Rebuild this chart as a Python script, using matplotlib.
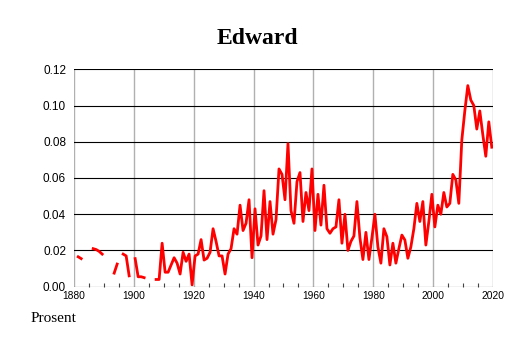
import numpy as np
import matplotlib
matplotlib.use("Agg")
import matplotlib.pyplot as plt
from matplotlib.ticker import MultipleLocator, FormatStrFormatter

# share of the population named Edward, per year (gaps = no data)
years = np.arange(1880, 2020)
nan = np.nan
values = [
    nan, 0.0165, 0.0155, nan, nan, nan, 0.021, 0.0205, 0.0195, 0.018,   # 1880-
    nan, nan, nan, 0.0075, 0.0125, nan, 0.018, 0.017, 0.006, nan,       # 1890-
    0.0155, 0.0055, 0.0055, 0.005, nan, nan, nan, 0.004, 0.004, 0.024,  # 1900-
    0.008, 0.008, 0.012, 0.016, 0.013, 0.007, 0.019, 0.014, 0.018, 0.001,  # 1910-
    0.017, 0.018, 0.026, 0.0147, 0.0157, 0.019, 0.032, 0.025, 0.017, 0.017,  # 1920-
    0.007, 0.018, 0.021, 0.032, 0.029, 0.045, 0.031, 0.035, 0.048, 0.016,  # 1930-
    0.043, 0.023, 0.028, 0.053, 0.026, 0.047, 0.029, 0.037, 0.065, 0.062,  # 1940-
    0.048, 0.079, 0.042, 0.035, 0.058, 0.063, 0.036, 0.052, 0.042, 0.065,  # 1950-
    0.031, 0.051, 0.034, 0.056, 0.032, 0.0295, 0.032, 0.033, 0.048, 0.024,  # 1960-
    0.040, 0.020, 0.025, 0.028, 0.047, 0.027, 0.015, 0.030, 0.015, 0.027,  # 1970-
    0.040, 0.022, 0.013, 0.032, 0.0276, 0.012, 0.024, 0.013, 0.021, 0.0285,  # 1980-
    0.0258, 0.0157, 0.022, 0.032, 0.046, 0.036, 0.047, 0.023, 0.036, 0.051,  # 1990-
    0.033, 0.045, 0.040, 0.052, 0.044, 0.046, 0.062, 0.059, 0.046, 0.081,  # 2000-
    0.097, 0.111, 0.103, 0.100, 0.087, 0.097, 0.084, 0.072, 0.091, 0.077,  # 2010-
]
values = np.array(values, dtype=float)

title = "Edward"
ylabel = "Prosent"

fig = plt.figure(figsize=(5.14, 3.43), dpi=100)
ax = fig.add_axes([0.1434, 0.1641, 0.8163, 0.6339])

# yearly values sit in the middle of each year
ax.plot(years + 0.5, values, color="#ff0000", lw=2.0, zorder=3)

ax.set_xlim(1880, 2020)
ax.set_ylim(0, 0.12)

for s in ax.spines.values():
    s.set_visible(False)

ax.xaxis.set_major_locator(MultipleLocator(20))
ax.xaxis.set_minor_locator(MultipleLocator(5))
ax.yaxis.set_major_locator(MultipleLocator(0.02))
ax.yaxis.set_major_formatter(FormatStrFormatter("%.2f"))

ax.grid(True, axis="y", color="black", lw=0.8)
ax.grid(True, axis="x", color="#b0b0b0", lw=1.0)
ax.set_axisbelow(True)

ax.tick_params(axis="x", which="major", length=0, pad=3, labelsize=7.4)
ax.tick_params(axis="x", which="minor", direction="in", length=3, color="#444444", width=0.8)
ax.tick_params(axis="y", length=0, pad=5.5, labelsize=8.5)
for lab in ax.get_xticklabels() + ax.get_yticklabels():
    lab.set_fontfamily("Liberation Sans")

fig.text(0.5, 1 - 44 / 343, title, ha="center", va="baseline",
         fontsize=17, fontweight="bold", family="Liberation Serif")
fig.text(31 / 514, 1 - 322 / 343, ylabel, ha="left", va="baseline",
         fontsize=11, family="Liberation Serif")

fig.savefig("out.png", dpi=100)
